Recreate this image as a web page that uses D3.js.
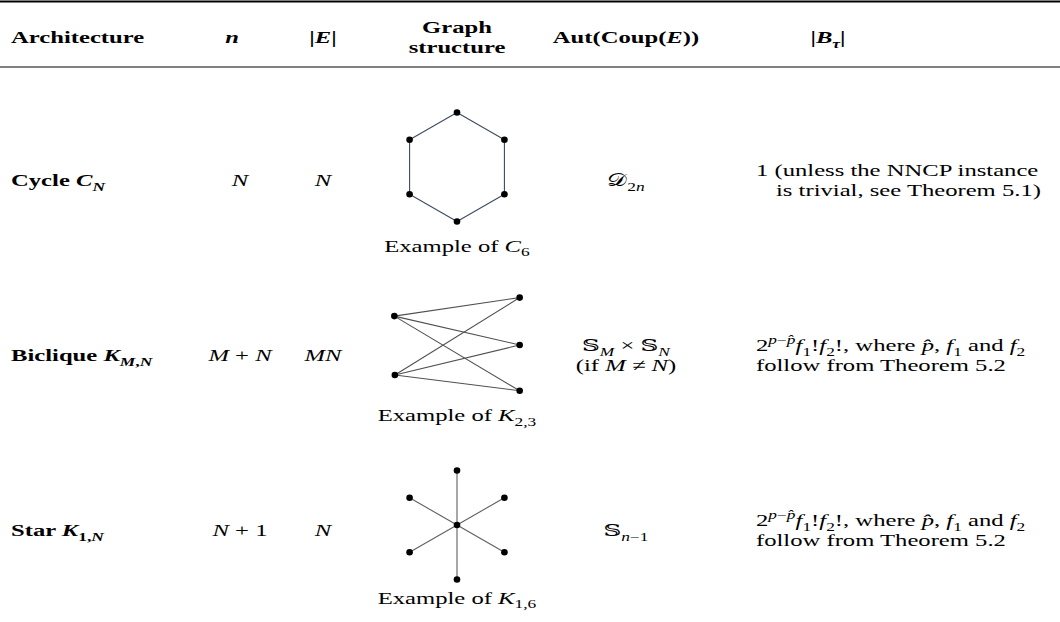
<!DOCTYPE html>
<html>
<head>
<meta charset="utf-8">
<script src="https://d3js.org/d3.v7.min.js"></script>
<style>
  body { margin: 0; background: #fff; }
  text { font-family: 'Liberation Serif', 'DejaVu Serif', serif; fill: #000; }
</style>
</head>
<body>
<svg width="1060" height="622"></svg>
<script>
// table content ($...$ = math: letters italic, _{} subscript, ^{} superscript)
var headers = [["Architecture"], ["$n$"], ["$|E|$"], ["Graph", "structure"], ["Aut(Coup($E$))"], ["$|B_{τ}|$"]];
var architectures = ["Cycle $C_{N}$", "Biclique $K_{M,N}$", "Star $K_{1,N}$"];
var nValues = ["$N$", "$M + N$", "$N + 1$"];
var eValues = ["$N$", "$MN$", "$N$"];
var captions = ["Example of $C_{6}$", "Example of $K_{2,3}$", "Example of $K_{1,6}$"];
var autValues = [["$𝒟_{2n}$"], ["$𝕊_{M} × 𝕊_{N}$", "(if $M ≠ N$)"], ["$𝕊_{n−1}$"]];
var bValues = [
  ["1 (unless the NNCP instance", "is trivial, see Theorem 5.1)"],
  ["$2^{p−p̂}f_{1}!f_{2}!$, where $p̂$, $f_{1}$ and $f_{2}$", "follow from Theorem 5.2"],
  ["$2^{p−p̂}f_{1}!f_{2}!$, where $p̂$, $f_{1}$ and $f_{2}$", "follow from Theorem 5.2"]
];

// example graphs, node coords in unit space
var cycleNodes = [[0, -1], [0.87, -0.5], [0.87, 0.5], [0, 1], [-0.87, 0.5], [-0.87, -0.5]];
var cycleEdges = [[0, 1], [1, 2], [2, 3], [3, 4], [4, 5], [5, 0]];
var bicliqueNodes = [[-1.15, -0.53], [-1.14, 0.55], [1.15, -0.87], [1.15, 0], [1.15, 0.84]];
var bicliqueEdges = [[0, 2], [0, 3], [0, 4], [1, 2], [1, 3], [1, 4]];
var starNodes = [[0, 0], [0, -1], [0.87, -0.5], [0.87, 0.5], [0, 1], [-0.87, 0.5], [-0.87, -0.5]];
var starEdges = [[0, 1], [0, 2], [0, 3], [0, 4], [0, 5], [0, 6]];
var graphs = [
  {nodes: cycleNodes, edges: cycleEdges, color: "#3d4b60", shift: -13, cap: 30},
  {nodes: bicliqueNodes, edges: bicliqueEdges, color: "#505050", shift: -10, cap: 30},
  {nodes: starNodes, edges: starEdges, color: "#606060", shift: -5, cap: 24}
];

var svg = d3.select("svg");
var FS = 17, SUB = 12, SX = 1.45, LH = 20;

var colX = d3.scaleOrdinal().domain(d3.range(6)).range([11, 240, 323, 457, 626, 756]);
var headX = [11, 232, 323, 457, 626, 828];
var rowY = d3.scalePoint().domain(architectures).range([180, 530]);

function parse(s) {
  var segs = [], math = false, i = 0;
  function ital(c) { return /[A-Za-zτ]/.test(c); }
  function push(t, it, sh) {
    var last = segs[segs.length - 1];
    if (/[\u0300-\u036f]/.test(t) && last) { last.t += t; return; }
    if (last && last.it === it && last.sh === sh) last.t += t;
    else segs.push({t: t, it: it, sh: sh});
  }
  while (i < s.length) {
    var c = s[i];
    if (c === "$") { math = !math; i++; continue; }
    if (math && (c === "_" || c === "^")) {
      var sh = c === "_" ? 1 : -1, g;
      i++;
      if (s[i] === "{") { var j = s.indexOf("}", i); g = s.slice(i + 1, j); i = j + 1; }
      else { g = s[i]; i++; }
      for (var k = 0; k < g.length; k++) push(g[k], ital(g[k]), sh);
      continue;
    }
    push(c, math && ital(c), 0);
    i++;
  }
  return segs;
}

function richText(g, str, x, y, anchor, bold) {
  var t = g.append("text")
    .attr("transform", "translate(" + x + "," + y + ") scale(" + SX + ",1)")
    .attr("text-anchor", anchor)
    .style("font-size", FS + "px")
    .style("font-weight", bold ? "bold" : "normal");
  var cur = 0;
  parse(str).forEach(function(s) {
    var off = s.sh === 1 ? 0.28 * FS : s.sh === -1 ? -0.4 * FS : 0;
    t.append("tspan")
      .attr("dy", off - cur)
      .style("font-style", s.it ? "italic" : "normal")
      .style("font-size", (s.sh ? SUB : FS) + "px")
      .text(s.t);
    cur = off;
  });
  return t;
}

// rules
svg.append("line").attr("x1", 0).attr("x2", 1060).attr("y1", 1.5).attr("y2", 1.5)
  .attr("stroke", "#000").attr("stroke-width", 2);
svg.append("line").attr("x1", 0).attr("x2", 1060).attr("y1", 67).attr("y2", 67)
  .attr("stroke", "#000").attr("stroke-width", 1);

// header
var head = svg.append("g");
headers.forEach(function(lines, c) {
  lines.forEach(function(l, k) {
    var y = 43 + (k - (lines.length - 1) / 2) * LH;
    richText(head, l, headX[c], y, c === 0 ? "start" : "middle", true);
  });
});

// body
var body = svg.append("g");
architectures.forEach(function(a, r) {
  var y = rowY(a);
  var base = y + 6;
  richText(body, a, colX(0), base, "start", true);
  richText(body, nValues[r], colX(1), base, "middle", false);
  richText(body, eValues[r], colX(2), base, "middle", false);
  autValues[r].forEach(function(l, k, arr) {
    richText(body, l, colX(4), base + (k - (arr.length - 1) / 2) * LH, "middle", false);
  });
  bValues[r].forEach(function(l, k, arr) {
    var x = colX(5) + (r === 0 && k > 0 ? 20 : 0);
    richText(body, l, x, base + (k - (arr.length - 1) / 2) * LH, "start", false);
  });

  // example graph
  var gr = graphs[r];
  var cy = y + gr.shift;
  var gx = d3.scaleLinear().domain([-1, 1]).range([colX(3) - 54.5, colX(3) + 54.5]);
  var gy = d3.scaleLinear().domain([-1, 1]).range([cy - 54.5, cy + 54.5]);
  var gg = body.append("g");
  gg.selectAll("line").data(gr.edges).join("line")
    .attr("x1", function(e) { return gx(gr.nodes[e[0]][0]); })
    .attr("y1", function(e) { return gy(gr.nodes[e[0]][1]); })
    .attr("x2", function(e) { return gx(gr.nodes[e[1]][0]); })
    .attr("y2", function(e) { return gy(gr.nodes[e[1]][1]); })
    .attr("stroke", gr.color).attr("stroke-width", 1.1);
  gg.selectAll("circle").data(gr.nodes).join("circle")
    .attr("cx", function(n) { return gx(n[0]); })
    .attr("cy", function(n) { return gy(n[1]); })
    .attr("r", 3.3).attr("fill", "#000");
  var bottom = d3.max(gr.nodes, function(n) { return gy(n[1]); });
  richText(body, captions[r], colX(3), bottom + gr.cap, "middle", false);
});
</script>
</body>
</html>
